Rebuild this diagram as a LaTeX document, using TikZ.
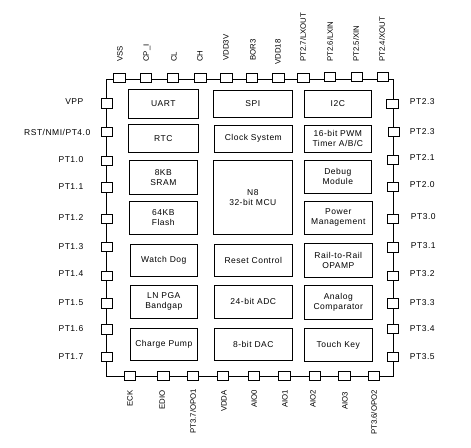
\documentclass[tikz,border=0pt]{standalone}
\usepackage{fontspec}
\setmainfont{Liberation Sans}
\newfontfamily\spaced[LetterSpace=6]{Liberation Sans}
\newcommand{\chipbox}[6]{%
  \pgfmathsetmacro{\mycx}{(#2+#4)/2}\pgfmathsetmacro{\mycy}{(#3+#5)/2}%
  \pgfmathsetmacro{\mybw}{#4-#2}\pgfmathsetmacro{\mybh}{#5-#3}%
  \node[blockbox,minimum width=\mybw pt,minimum height=\mybh pt] (#1) at (\mycx,\mycy) {#6};}
\newcommand{\chippin}[5]{%
  \pgfmathsetmacro{\mycx}{(#2+#4)/2}\pgfmathsetmacro{\mycy}{(#3+#5)/2}%
  \pgfmathsetmacro{\mybw}{#4-#2}\pgfmathsetmacro{\mybh}{#5-#3}%
  \node[pinbox,minimum width=\mybw pt,minimum height=\mybh pt] (#1) at (\mycx,\mycy) {};}
\tikzset{
  blockbox/.style={draw=black,line width=0.9pt,inner sep=0pt,outer sep=0pt,align=center,
    font=\spaced\fontsize{8.5}{10}\selectfont},
  pinbox/.style={draw=black,fill=white,line width=0.9pt,inner sep=0pt,outer sep=0pt},
  leftlabel/.style={anchor=east,inner sep=0pt,font=\spaced\fontsize{8.5}{10}\selectfont},
  rightlabel/.style={anchor=west,inner sep=0pt,font=\spaced\fontsize{8.5}{10}\selectfont},
  toplabel/.style={rotate=90,anchor=west,inner sep=0pt,font=\fontsize{7.8}{9}\selectfont},
  botlabel/.style={rotate=90,anchor=east,inner sep=0pt,font=\fontsize{7.8}{9}\selectfont}
}
\begin{document}
\begin{tikzpicture}[x=1pt,y=-1pt]
\useasboundingbox (0,0) rectangle (471,447);
% frame
\coordinate (nw) at (106.7,79.3);
\coordinate (ne) at (393.3,79.3);
\coordinate (se) at (393.3,376.3);
\coordinate (sw) at (106.7,376.3);
\draw[line width=0.9pt] (nw) -- (ne) -- (se) -- (sw) -- cycle;
% left column
\chipbox{uart}{128.3}{89.3}{198.3}{118.3}{UART}
\chipbox{rtc}{128.3}{124.3}{198.3}{152.3}{RTC}
\chipbox{sram}{129.3}{160.3}{197.3}{194.3}{8KB\\SRAM}
\chipbox{flash}{129.3}{201.3}{197.3}{234.3}{64KB\\Flash}
\chipbox{wdog}{130.3}{244.3}{197.3}{276.3}{Watch Dog}
\chipbox{lnpga}{130.3}{285.3}{197.3}{318.3}{LN PGA\\Bandgap}
\chipbox{cpump}{130.3}{328.3}{197.3}{360.3}{Charge Pump}
% middle column
\chipbox{spi}{213.3}{90.3}{292.3}{117.3}{SPI}
\chipbox{clock}{214.3}{125.3}{292.3}{152.3}{Clock System}
\chipbox{mcu}{213.3}{160.3}{292.3}{234.3}{N8\\32-bit MCU}
\chipbox{reset}{214.3}{244.3}{292.3}{276.3}{Reset Control}
\chipbox{adc}{214.3}{285.3}{292.3}{318.3}{24-bit ADC}
\chipbox{dac}{214.3}{328.3}{292.3}{360.3}{8-bit DAC}
% right column
\chipbox{iic}{304.3}{90.3}{371.3}{117.3}{I2C}
\chipbox{pwm}{304.3}{125.3}{371.3}{152.3}{16-bit PWM\\Timer A/B/C}
\chipbox{debug}{304.3}{160.3}{371.3}{193.3}{Debug\\Module}
\chipbox{power}{304.3}{201.3}{372.3}{234.3}{Power\\Management}
\chipbox{rail}{304.3}{243.3}{372.3}{277.3}{Rail-to-Rail\\OPAMP}
\chipbox{analog}{304.3}{285.3}{372.3}{319.3}{Analog\\Comparator}
\chipbox{touch}{304.3}{328.3}{372.3}{361.3}{Touch Key}
% top pins
\chippin{t1}{113.3}{73.3}{125.7}{82.3}
\chippin{t2}{140.3}{73.3}{151.7}{82.3}
\chippin{t3}{167.3}{73.3}{178.3}{82.3}
\chippin{t4}{194.3}{73.3}{206.3}{82.3}
\chippin{t5}{220.3}{73.3}{232.3}{82.3}
\chippin{t6}{246}{73.3}{257.7}{82.3}
\chippin{t7}{272.3}{73.3}{284.3}{82.3}
\chippin{t8}{297.3}{73.3}{309.7}{82.3}
\chippin{t9}{324}{72.3}{335.7}{81.3}
\chippin{t10}{351.3}{72.3}{362.3}{81.3}
\chippin{t11}{377.3}{72.3}{388.3}{81.3}
% left pins
\chippin{l1}{101.3}{98.3}{112.7}{108.3}
\chippin{l2}{101.3}{127.7}{112.7}{136.3}
\chippin{l3}{101.3}{156.7}{112.7}{165.3}
\chippin{l4}{101.3}{182.3}{112.7}{192.3}
\chippin{l5}{101.3}{214.3}{112.7}{223.3}
\chippin{l6}{101.3}{242.3}{112.7}{251.3}
\chippin{l7}{101.3}{271.7}{112.7}{280.3}
\chippin{l8}{101.3}{298.3}{112.7}{308.3}
\chippin{l9}{101.3}{324.7}{112.7}{334.7}
\chippin{l10}{101.3}{352.3}{112.7}{361.3}
% right pins
\chippin{r1}{386.3}{99.3}{398.7}{108.3}
\chippin{r2}{388.7}{127.7}{399.7}{136.3}
\chippin{r3}{387.7}{155.7}{398.7}{164.3}
\chippin{r4}{387.7}{182.3}{398.7}{191.3}
\chippin{r5}{387.7}{214.3}{398.7}{223.3}
\chippin{r6}{387.7}{242.3}{398.7}{252.3}
\chippin{r7}{387.7}{271.7}{398.7}{280.3}
\chippin{r8}{387.7}{298.3}{398.7}{308.3}
\chippin{r9}{387.7}{324.7}{398.7}{333.3}
\chippin{r10}{387.7}{352.3}{398.7}{361.3}
% bottom pins
\chippin{b1}{124.3}{371.3}{135.7}{380.3}
\chippin{b2}{157.3}{371.3}{169.3}{380.3}
\chippin{b3}{187.3}{371.3}{198.3}{380.3}
\chippin{b4}{217.3}{371.3}{228.7}{380.3}
\chippin{b5}{248.3}{371.3}{259.7}{380.3}
\chippin{b6}{278.3}{371.3}{290.3}{380.3}
\chippin{b7}{309.3}{371.3}{320.3}{380.3}
\chippin{b8}{338.3}{371.3}{350.3}{380.3}
\chippin{b9}{368.3}{371.3}{379.7}{380.3}
% top labels
\node[toplabel] (tl1) at (120,62) {VSS};
\node[toplabel] (tl2) at (147,62) {CP\_I};
\node[toplabel] (tl3) at (174,62) {CL};
\node[toplabel] (tl4) at (200,62) {CH};
\node[toplabel] (tl5) at (226,61) {VDD3V};
\node[toplabel] (tl6) at (253,61) {BOR3};
\node[toplabel] (tl7) at (278,65) {VDD18};
\node[toplabel] (tl8) at (303,62) {PT2.7/LXOUT};
\node[toplabel] (tl9) at (330,62) {PT2.6/LXIN};
\node[toplabel] (tl10) at (356,62) {PT2.5/XIN};
\node[toplabel] (tl11) at (382,62) {PT2.4/XOUT};
% left labels
\node[leftlabel] (ll1) at (83.5,102) {VPP};
\node[leftlabel] (ll2) at (90.5,132) {RST/NMI/PT4.0};
\node[leftlabel] (ll3) at (83.5,160) {PT1.0};
\node[leftlabel] (ll4) at (83.5,187) {PT1.1};
\node[leftlabel] (ll5) at (83.5,218) {PT1.2};
\node[leftlabel] (ll6) at (83.5,247) {PT1.3};
\node[leftlabel] (ll7) at (83.5,274) {PT1.4};
\node[leftlabel] (ll8) at (83.5,303) {PT1.5};
\node[leftlabel] (ll9) at (83.5,329) {PT1.6};
\node[leftlabel] (ll10) at (83.5,357) {PT1.7};
% right labels
\node[rightlabel] (rl1) at (409.7,102) {PT2.3};
\node[rightlabel] (rl2) at (409.7,132) {PT2.3};
\node[rightlabel] (rl3) at (409.7,158) {PT2.1};
\node[rightlabel] (rl4) at (409.7,185) {PT2.0};
\node[rightlabel] (rl5) at (410.7,217) {PT3.0};
\node[rightlabel] (rl6) at (410.7,246) {PT3.1};
\node[rightlabel] (rl7) at (409.7,274) {PT3.2};
\node[rightlabel] (rl8) at (409.7,303) {PT3.3};
\node[rightlabel] (rl9) at (409.7,329) {PT3.4};
\node[rightlabel] (rl10) at (409.7,357) {PT3.5};
% bottom labels
\node[botlabel] (bl1) at (130,390) {ECK};
\node[botlabel] (bl2) at (162.3,390) {EDIO};
\node[botlabel] (bl3) at (193,388.7) {PT3.7/OPO1};
\node[botlabel] (bl4) at (224,390) {VDDA};
\node[botlabel] (bl5) at (254.3,390) {AIO0};
\node[botlabel] (bl6) at (285,390) {AIO1};
\node[botlabel] (bl7) at (313,390) {AIO2};
\node[botlabel] (bl8) at (345,392) {AIO3};
\node[botlabel] (bl9) at (374,390) {PT3.6/OPO2};
\end{tikzpicture}
\end{document}
